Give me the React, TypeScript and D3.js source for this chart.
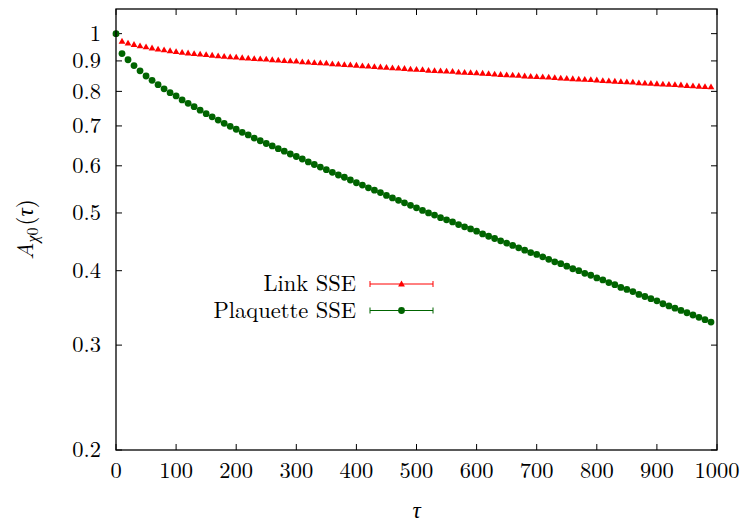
import React from 'react';
import * as d3 from 'd3';

// sampling grid (tau) and the two measured series
const tau = [
  0, 10, 20, 30, 40, 50, 60, 70, 80, 90,
  100, 110, 120, 130, 140, 150, 160, 170, 180, 190,
  200, 210, 220, 230, 240, 250, 260, 270, 280, 290,
  300, 310, 320, 330, 340, 350, 360, 370, 380, 390,
  400, 410, 420, 430, 440, 450, 460, 470, 480, 490,
  500, 510, 520, 530, 540, 550, 560, 570, 580, 590,
  600, 610, 620, 630, 640, 650, 660, 670, 680, 690,
  700, 710, 720, 730, 740, 750, 760, 770, 780, 790,
  800, 810, 820, 830, 840, 850, 860, 870, 880, 890,
  900, 910, 920, 930, 940, 950, 960, 970, 980, 990,
];

const linkSSE = [
  1.000, 0.971, 0.964, 0.959, 0.954, 0.950, 0.946, 0.942, 0.939, 0.936,
  0.933, 0.930, 0.928, 0.926, 0.924, 0.922, 0.920, 0.918, 0.916, 0.914,
  0.913, 0.911, 0.910, 0.908, 0.907, 0.906, 0.904, 0.903, 0.901, 0.900,
  0.899, 0.897, 0.896, 0.894, 0.893, 0.892, 0.890, 0.889, 0.887, 0.886,
  0.885, 0.883, 0.882, 0.880, 0.879, 0.878, 0.876, 0.875, 0.874, 0.872,
  0.871, 0.870, 0.868, 0.867, 0.866, 0.865, 0.864, 0.862, 0.861, 0.860,
  0.859, 0.858, 0.857, 0.855, 0.854, 0.853, 0.852, 0.851, 0.849, 0.848,
  0.847, 0.846, 0.845, 0.844, 0.842, 0.841, 0.840, 0.839, 0.838, 0.837,
  0.836, 0.834, 0.833, 0.832, 0.831, 0.830, 0.829, 0.827, 0.826, 0.825,
  0.824, 0.823, 0.822, 0.821, 0.820, 0.818, 0.817, 0.816, 0.815, 0.814,
];

const plaquetteSSE = [
  1.000, 0.926, 0.904, 0.884, 0.866, 0.849, 0.835, 0.821, 0.808, 0.796,
  0.786, 0.774, 0.764, 0.754, 0.744, 0.734, 0.725, 0.716, 0.707, 0.699,
  0.691, 0.683, 0.676, 0.668, 0.661, 0.654, 0.648, 0.641, 0.635, 0.628,
  0.622, 0.616, 0.609, 0.603, 0.597, 0.591, 0.585, 0.579, 0.574, 0.568,
  0.562, 0.557, 0.551, 0.546, 0.541, 0.535, 0.530, 0.525, 0.520, 0.515,
  0.510, 0.505, 0.500, 0.496, 0.491, 0.487, 0.483, 0.478, 0.474, 0.470,
  0.466, 0.461, 0.457, 0.453, 0.449, 0.445, 0.441, 0.437, 0.433, 0.429,
  0.426, 0.422, 0.418, 0.414, 0.411, 0.407, 0.403, 0.400, 0.396, 0.393,
  0.389, 0.386, 0.382, 0.379, 0.375, 0.372, 0.369, 0.365, 0.362, 0.359,
  0.356, 0.352, 0.349, 0.346, 0.343, 0.340, 0.337, 0.334, 0.331, 0.328,
];

const xTicks = [0, 100, 200, 300, 400, 500, 600, 700, 800, 900, 1000];
const yTicks = [0.2, 0.3, 0.4, 0.5, 0.6, 0.7, 0.8, 0.9, 1];
const yTickLabels = ['0.2', '0.3', '0.4', '0.5', '0.6', '0.7', '0.8', '0.9', '1'];

const seriesNames = ['Link SSE', 'Plaquette SSE'];
const seriesColors = ['#ff0000', '#006400'];

const width = 746;
const height = 524;
const margin = { top: 9, right: 29, bottom: 74, left: 116 };
const serif = { fontFamily: "'Latin Modern Roman'" };
const fs = 22.5;

function Triangle({ x, y, color }: { x: number; y: number; color: string }) {
  return <path d={`M${x - 3.4},${y + 2.4}L${x + 3.4},${y + 2.4}L${x},${y - 3.4}Z`} fill={color} />;
}

export default function App() {
  const innerW = width - margin.left - margin.right;
  const innerH = height - margin.top - margin.bottom;

  const x = d3.scaleLinear().domain([0, 1000]).range([0, innerW]);
  const y = d3.scaleLog().domain([0.2, 1.1]).range([innerH, 0]);

  const tick = 6;

  // legend geometry
  const legX = 356 - margin.left;
  const legY = [284 - margin.top, 310.5 - margin.top];
  const legLine = [370 - margin.left, 433 - margin.left];

  return (
    <svg
      width={width}
      height={height}
      style={{ position: 'absolute', left: 0, top: 0, background: '#fff' }}
    >
      <rect width={width} height={height} fill="#fff" />
      <g transform={`translate(${margin.left},${margin.top})`}>
        {/* ticks */}
        {xTicks.map(t => (
          <g key={'x' + t}>
            <line x1={x(t)} x2={x(t)} y1={innerH} y2={innerH - tick} stroke="#000" strokeWidth={1} />
            <line x1={x(t)} x2={x(t)} y1={0} y2={tick} stroke="#000" strokeWidth={1} />
            <text x={x(t)} y={innerH + 28} textAnchor="middle" fontSize={fs} fill="#000" style={serif}>
              {t}
            </text>
          </g>
        ))}
        {yTicks.map((t, i) => (
          <g key={'y' + t}>
            <line x1={0} x2={tick} y1={y(t)} y2={y(t)} stroke="#000" strokeWidth={1} />
            <line x1={innerW} x2={innerW - tick} y1={y(t)} y2={y(t)} stroke="#000" strokeWidth={1} />
            <text x={-15} y={y(t) + 7.3} textAnchor="end" fontSize={fs} fill="#000" style={serif}>
              {yTickLabels[i]}
            </text>
          </g>
        ))}

        {/* Link SSE */}
        {tau.map((t, i) => (
          <Triangle key={'l' + t} x={x(t)} y={y(linkSSE[i])} color={seriesColors[0]} />
        ))}
        {/* Plaquette SSE */}
        {tau.map((t, i) => (
          <circle key={'p' + t} cx={x(t)} cy={y(plaquetteSSE[i])} r={3.4} fill={seriesColors[1]} />
        ))}

        {/* legend */}
        {seriesNames.map((name, i) => (
          <g key={name}>
            <text x={legX} y={legY[i] + 7} textAnchor="end" fontSize={fs} fill="#000" style={serif}>
              {name}
            </text>
            <line x1={legLine[0]} x2={legLine[1]} y1={legY[i]} y2={legY[i]} stroke={seriesColors[i]} strokeWidth={1} />
            <line x1={legLine[0]} x2={legLine[0]} y1={legY[i] - 3} y2={legY[i] + 3} stroke={seriesColors[i]} strokeWidth={1} />
            <line x1={legLine[1]} x2={legLine[1]} y1={legY[i] - 3} y2={legY[i] + 3} stroke={seriesColors[i]} strokeWidth={1} />
            {i === 0 ? (
              <Triangle x={(legLine[0] + legLine[1]) / 2} y={legY[i]} color={seriesColors[i]} />
            ) : (
              <circle cx={(legLine[0] + legLine[1]) / 2} cy={legY[i]} r={3.4} fill={seriesColors[i]} />
            )}
          </g>
        ))}

        {/* frame */}
        <rect x={0} y={0} width={innerW} height={innerH} fill="none" stroke="#000" strokeWidth={1.3} />

        {/* axis titles */}
        <text x={innerW / 2} y={innerH + 68} textAnchor="middle" fontSize={23} fontStyle="italic" fill="#000" style={serif}>
          τ
        </text>
        <text
          transform={`translate(${33 - margin.left},${innerH / 2}) rotate(-90)`}
          textAnchor="middle"
          fontSize={23}
          fill="#000"
          style={serif}
        >
          <tspan fontStyle="italic">A</tspan>
          <tspan fontSize={16} dy={5} fontStyle="italic">χ</tspan>
          <tspan fontSize={16}>0</tspan>
          <tspan dy={-5} dx={2}>(</tspan>
          <tspan fontStyle="italic">τ</tspan>
          <tspan>)</tspan>
        </text>
      </g>
    </svg>
  );
}
